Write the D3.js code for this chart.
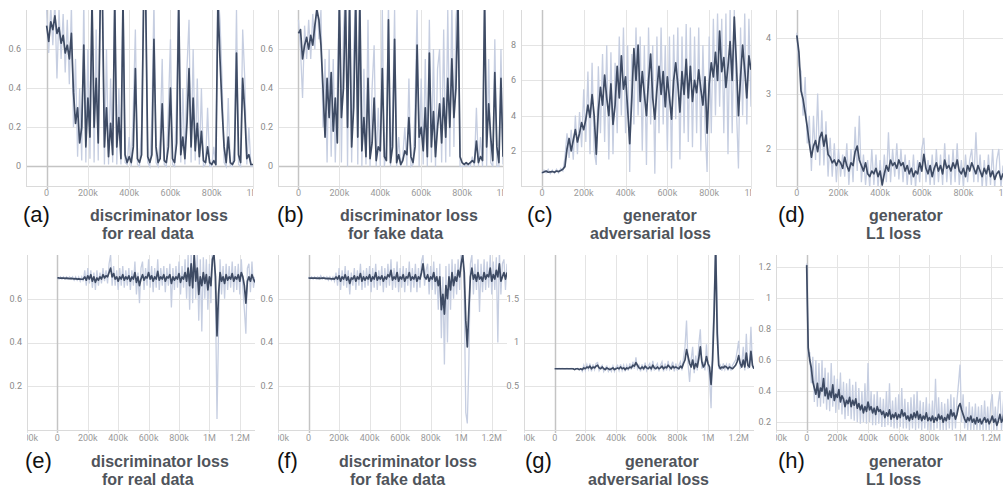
<!DOCTYPE html>
<html>
<head>
<meta charset="utf-8">
<script src="https://cdn.jsdelivr.net/npm/d3@7"></script>
<style>
  body { margin: 0; background: #fff; }
  svg { display: block; }
</style>
</head>
<body>
<div id="chart"></div>
<script>
const W = 1003, H = 487;
const stepSize = 10000; // one value every 10k steps

// x ticks
const topTicks = [0, 200000, 400000, 600000, 800000, 1000000];
const bottomTicks = [-200000, 0, 200000, 400000, 600000, 800000, 1000000, 1200000];

// (a) discriminator loss, real data (first run)
const lossA = [
  0.72,0.64,0.74,0.70,0.77,0.68,0.71,0.63,0.67,0.58,
  0.62,0.55,0.68,0.38,0.22,0.30,0.12,0.20,0.62,0.10,
  0.35,0.15,0.85,0.20,0.45,0.12,0.85,0.88,0.10,0.30,
  0.05,0.22,0.06,0.85,0.10,0.25,0.04,0.85,0.06,0.02,
  0.05,0.02,0.10,0.50,0.04,0.02,0.06,0.85,0.85,0.05,
  0.02,0.06,0.65,0.10,0.02,0.04,0.32,0.03,0.02,0.10,
  0.40,0.04,0.02,0.12,0.85,0.06,0.15,0.04,0.22,0.50,
  0.10,0.35,0.08,0.22,0.05,0.18,0.03,0.02,0.10,0.02,
  0.01,0.03,0.01,0.85,0.55,0.30,0.10,0.02,0.15,0.02,
  0.01,0.03,0.58,0.06,0.02,0.45,0.28,0.04,0.06,0.01,
  0.01];
const rawA = [
  0.80,0.58,0.82,0.62,0.85,0.45,0.80,0.55,0.78,0.48,
  0.75,0.42,0.82,0.20,0.55,0.05,0.40,0.03,0.85,0.02,
  0.60,0.04,0.90,0.02,0.70,0.03,0.90,0.90,0.01,0.60,
  0.01,0.45,0.02,0.90,0.01,0.40,0.01,0.90,0.02,0.01,
  0.15,0.00,0.30,0.70,0.01,0.00,0.20,0.90,0.90,0.02,
  0.00,0.25,0.85,0.02,0.00,0.15,0.55,0.01,0.00,0.30,
  0.65,0.01,0.00,0.35,0.90,0.02,0.40,0.01,0.50,0.75,
  0.02,0.60,0.03,0.45,0.01,0.40,0.00,0.01,0.30,0.00,
  0.00,0.10,0.00,0.90,0.75,0.45,0.02,0.00,0.35,0.00,
  0.00,0.10,0.80,0.01,0.00,0.70,0.45,0.01,0.20,0.00,
  0.00];

// (b) discriminator loss, fake data (first run)
const lossB = [
  0.68,0.70,0.55,0.62,0.66,0.60,0.67,0.62,0.72,0.80,
  0.75,0.62,0.40,0.15,0.45,0.25,0.48,0.18,0.35,0.12,
  0.85,0.25,0.40,0.85,0.20,0.85,0.10,0.30,0.85,0.15,
  0.85,0.08,0.25,0.05,0.45,0.04,0.12,0.35,0.03,0.10,
  0.08,0.50,0.05,0.03,0.75,0.02,0.10,0.65,0.02,0.06,
  0.01,0.03,0.08,0.06,0.25,0.05,0.02,0.10,0.62,0.15,
  0.20,0.08,0.30,0.05,0.58,0.10,0.28,0.05,0.20,0.32,
  0.12,0.35,0.15,0.45,0.20,0.55,0.25,0.40,0.85,0.05,
  0.02,0.01,0.02,0.01,0.02,0.03,0.02,0.13,0.02,0.05,
  0.03,0.85,0.10,0.32,0.15,0.03,0.48,0.10,0.02,0.45,
  0.05];
const rawB = [
  0.75,0.60,0.35,0.72,0.55,0.75,0.55,0.78,0.60,0.90,
  0.65,0.80,0.20,0.55,0.02,0.60,0.05,0.55,0.02,0.40,
  0.90,0.02,0.70,0.90,0.00,0.90,0.02,0.60,0.90,0.01,
  0.90,0.00,0.50,0.01,0.75,0.00,0.40,0.62,0.00,0.30,
  0.00,0.80,0.00,0.10,0.85,0.00,0.25,0.80,0.00,0.15,
  0.00,0.05,0.20,0.00,0.45,0.00,0.01,0.30,0.80,0.00,
  0.45,0.01,0.55,0.00,0.75,0.02,0.60,0.00,0.50,0.60,
  0.02,0.70,0.02,0.80,0.05,0.85,0.10,0.75,0.90,0.00,
  0.00,0.00,0.01,0.00,0.00,0.05,0.00,0.30,0.00,0.15,
  0.00,0.90,0.00,0.55,0.02,0.00,0.65,0.00,0.00,0.60,
  0.01];

// (c) generator adversarial loss (first run)
const lossC = [
  0.75,0.80,0.85,0.78,0.80,0.82,0.78,0.85,0.82,0.88,
  0.95,1.1,2.1,2.7,2.0,2.6,3.2,2.5,3.0,3.6,
  3.2,3.8,4.6,3.9,5.2,4.0,1.8,4.3,5.6,4.6,
  6.3,5.0,4.0,5.8,3.5,4.6,6.8,5.0,7.4,5.5,
  6.2,4.4,2.4,5.0,7.8,6.0,8.0,4.8,6.5,5.2,
  4.0,6.0,7.5,5.0,3.8,5.5,6.8,5.2,6.5,4.5,
  6.2,5.0,3.8,6.0,7.0,5.8,4.2,6.5,5.2,7.2,
  5.0,6.8,4.8,6.0,5.3,6.6,5.5,4.6,6.2,3.0,
  5.8,7.0,6.2,7.6,6.0,8.8,6.5,7.3,5.6,6.8,
  8.2,6.0,9.6,7.0,4.0,6.2,8.0,6.6,5.0,7.4,
  6.6];
const rawC = [
  0.70,0.90,0.75,0.95,0.70,0.90,0.72,0.95,0.75,1.0,
  0.85,1.6,3.0,1.6,3.2,1.5,4.0,1.8,4.2,2.2,
  5.5,2.5,6.5,1.8,7.0,2.0,1.2,6.8,3.0,7.5,
  2.5,8.0,1.5,7.6,1.8,7.0,3.0,8.5,4.0,9.0,
  3.0,8.0,0.8,7.5,3.5,9.0,4.0,8.5,2.0,8.0,
  1.2,9.0,3.5,8.0,0.7,8.5,3.0,9.0,3.5,8.0,
  2.0,8.5,1.0,8.6,3.8,9.0,1.5,8.5,3.0,9.2,
  2.5,9.0,2.2,8.5,3.0,9.0,2.0,8.0,3.5,0.8,
  8.5,3.0,9.5,4.0,9.8,4.5,9.5,3.0,9.8,1.8,
  10.0,3.0,10.0,4.5,1.0,9.0,4.0,9.8,3.5,9.5,
  4.5];

// (d) generator L1 loss (first run)
const lossD = [
  4.05,3.75,3.05,2.90,2.65,2.40,2.10,1.85,2.05,2.15,
  1.95,2.20,2.30,2.05,2.25,1.90,1.85,1.75,1.80,1.70,
  1.80,1.75,1.65,1.85,1.70,1.60,1.75,1.70,1.95,2.05,
  1.80,1.70,1.60,1.75,1.55,1.50,1.60,1.55,1.65,1.50,
  1.60,1.35,1.55,1.70,1.60,1.80,1.70,1.75,1.65,1.80,
  1.70,1.75,1.60,1.70,1.55,1.65,1.50,1.60,1.55,1.75,
  1.60,1.90,1.65,1.55,1.70,1.50,1.65,1.75,1.60,1.70,
  1.55,1.80,1.65,1.70,1.60,1.75,1.65,1.80,1.60,1.55,
  1.65,1.50,1.70,1.60,1.75,1.65,1.55,1.70,1.60,1.50,
  1.65,1.55,1.70,1.50,1.60,1.45,1.55,1.60,1.45,1.55,
  1.45];
const rawD = [
  4.1,3.5,3.4,2.6,3.3,2.1,2.6,1.6,2.6,1.8,
  3.0,1.7,2.7,1.7,2.5,1.5,2.2,1.5,2.1,1.4,
  2.0,1.5,1.9,1.5,2.1,1.35,2.0,1.4,2.4,1.6,
  2.6,1.4,1.9,1.35,1.8,1.3,2.0,1.35,1.9,1.3,
  1.8,1.3,1.9,1.4,2.3,1.4,2.0,1.5,2.1,1.45,
  2.0,1.4,1.9,1.35,1.8,1.35,1.9,1.3,1.8,1.4,
  2.0,2.2,1.4,1.8,1.35,1.9,1.35,2.0,1.4,1.9,
  1.35,2.1,1.4,1.9,1.35,2.0,1.4,2.1,1.35,1.8,
  1.3,1.9,1.4,1.8,2.0,1.4,2.3,1.4,1.9,1.3,
  1.8,1.3,1.9,1.35,2.0,1.3,1.8,2.0,1.3,1.7,
  1.3];

// (e) discriminator loss, real data (second run)
const lossE = [
  0.695,0.695,0.694,0.695,0.694,0.693,0.694,0.693,0.692,0.693,
  0.692,0.691,0.692,0.690,0.691,0.690,0.689,0.690,0.70,0.685,
  0.705,0.69,0.71,0.68,0.70,0.675,0.695,0.685,0.70,0.69,
  0.71,0.695,0.705,0.70,0.72,0.74,0.70,0.715,0.69,0.70,
  0.68,0.70,0.69,0.71,0.685,0.70,0.69,0.705,0.68,0.70,
  0.69,0.72,0.675,0.70,0.66,0.69,0.71,0.685,0.70,0.695,
  0.72,0.69,0.705,0.68,0.70,0.69,0.725,0.685,0.70,0.69,
  0.71,0.68,0.70,0.695,0.71,0.67,0.70,0.685,0.70,0.69,
  0.715,0.675,0.70,0.69,0.72,0.68,0.74,0.66,0.76,0.65,
  0.80,0.68,0.74,0.62,0.70,0.66,0.72,0.67,0.71,0.64,
  0.70,0.66,0.78,0.80,0.70,0.43,0.62,0.72,0.68,0.70,
  0.67,0.71,0.685,0.70,0.69,0.715,0.68,0.70,0.69,0.71,
  0.68,0.72,0.70,0.66,0.58,0.68,0.70,0.68,0.71,0.69,
  0.675];
const rawE = [
  0.70,0.69,0.70,0.69,0.70,0.69,0.70,0.69,0.70,0.69,
  0.70,0.685,0.70,0.685,0.70,0.68,0.70,0.68,0.73,0.66,
  0.74,0.67,0.73,0.65,0.72,0.64,0.73,0.66,0.72,0.67,
  0.74,0.68,0.73,0.67,0.76,0.80,0.66,0.75,0.66,0.73,
  0.64,0.74,0.66,0.75,0.65,0.73,0.66,0.74,0.64,0.73,
  0.66,0.77,0.62,0.72,0.58,0.74,0.77,0.64,0.74,0.66,
  0.78,0.65,0.75,0.63,0.74,0.65,0.78,0.64,0.74,0.66,
  0.75,0.63,0.74,0.66,0.76,0.56,0.74,0.64,0.75,0.65,
  0.77,0.62,0.75,0.65,0.78,0.60,0.80,0.55,0.82,0.58,
  0.85,0.60,0.80,0.50,0.78,0.45,0.79,0.60,0.78,0.55,
  0.76,0.58,0.84,0.85,0.60,0.05,0.45,0.78,0.62,0.75,
  0.60,0.76,0.64,0.75,0.65,0.77,0.63,0.75,0.64,0.76,
  0.62,0.78,0.65,0.55,0.44,0.74,0.76,0.63,0.77,0.65,
  0.70];

// (f) discriminator loss, fake data (second run)
const lossF = [
  0.695,0.694,0.695,0.694,0.695,0.694,0.693,0.694,0.693,0.695,
  0.694,0.693,0.692,0.693,0.692,0.691,0.692,0.690,0.70,0.69,
  0.705,0.68,0.70,0.69,0.71,0.685,0.70,0.67,0.695,0.69,
  0.705,0.68,0.70,0.69,0.715,0.68,0.70,0.685,0.70,0.69,
  0.71,0.68,0.70,0.69,0.72,0.685,0.70,0.69,0.705,0.68,
  0.70,0.69,0.71,0.70,0.73,0.685,0.70,0.69,0.72,0.68,
  0.70,0.69,0.71,0.68,0.70,0.695,0.72,0.685,0.70,0.69,
  0.71,0.68,0.70,0.69,0.72,0.76,0.70,0.69,0.71,0.68,
  0.70,0.69,0.72,0.68,0.70,0.66,0.70,0.55,0.62,0.53,
  0.66,0.60,0.70,0.64,0.72,0.66,0.70,0.68,0.73,0.70,
  0.76,0.80,0.72,0.50,0.38,0.55,0.70,0.74,0.69,0.71,
  0.68,0.72,0.69,0.70,0.68,0.72,0.69,0.71,0.70,0.74,
  0.68,0.71,0.69,0.73,0.70,0.76,0.68,0.70,0.72,0.69,
  0.72];
const rawF = [
  0.70,0.69,0.70,0.69,0.70,0.69,0.70,0.69,0.705,0.69,
  0.70,0.69,0.70,0.685,0.70,0.685,0.70,0.68,0.72,0.66,
  0.74,0.64,0.73,0.66,0.75,0.65,0.73,0.62,0.72,0.66,
  0.74,0.64,0.73,0.66,0.76,0.64,0.73,0.65,0.74,0.66,
  0.75,0.63,0.74,0.65,0.76,0.64,0.73,0.66,0.75,0.63,
  0.74,0.65,0.76,0.66,0.78,0.64,0.74,0.65,0.77,0.63,
  0.74,0.65,0.75,0.63,0.74,0.66,0.77,0.63,0.74,0.65,
  0.76,0.63,0.74,0.65,0.77,0.80,0.66,0.73,0.76,0.62,
  0.75,0.64,0.77,0.62,0.74,0.55,0.76,0.42,0.70,0.30,
  0.75,0.40,0.76,0.55,0.78,0.60,0.76,0.62,0.78,0.64,
  0.82,0.85,0.60,0.08,0.03,0.30,0.76,0.80,0.62,0.76,
  0.64,0.78,0.54,0.76,0.63,0.78,0.64,0.77,0.65,0.80,
  0.62,0.77,0.64,0.79,0.40,0.82,0.62,0.76,0.78,0.64,
  0.76];

// (g) generator adversarial loss (second run)
const lossG = [
  0.70,0.70,0.70,0.70,0.70,0.70,0.70,0.70,0.70,0.70,
  0.70,0.70,0.70,0.69,0.70,0.70,0.69,0.70,0.69,0.71,
  0.70,0.72,0.71,0.73,0.70,0.72,0.71,0.73,0.74,0.71,
  0.70,0.72,0.70,0.69,0.71,0.70,0.69,0.70,0.71,0.69,
  0.70,0.71,0.70,0.72,0.70,0.71,0.69,0.71,0.70,0.72,
  0.71,0.74,0.73,0.77,0.74,0.71,0.70,0.72,0.70,0.73,
  0.71,0.70,0.72,0.70,0.74,0.71,0.70,0.72,0.70,0.71,
  0.73,0.70,0.72,0.71,0.74,0.72,0.70,0.73,0.71,0.72,
  0.71,0.70,0.73,0.71,0.76,0.80,0.92,0.84,0.76,0.72,
  0.80,0.70,0.76,0.72,0.82,0.95,0.78,0.72,0.75,0.84,
  0.76,0.72,0.52,0.80,1.33,2.10,1.10,0.74,0.70,0.72,
  0.71,0.73,0.72,0.70,0.72,0.71,0.70,0.72,0.74,0.78,
  0.85,0.76,0.72,0.80,0.72,0.88,0.74,0.72,0.90,0.74,
  0.70];
const rawG = [
  0.70,0.705,0.70,0.705,0.70,0.705,0.70,0.70,0.705,0.70,
  0.70,0.705,0.70,0.695,0.70,0.705,0.69,0.70,0.67,0.74,
  0.68,0.75,0.69,0.76,0.67,0.75,0.69,0.76,0.77,0.68,
  0.72,0.74,0.67,0.71,0.73,0.67,0.71,0.67,0.73,0.67,
  0.72,0.74,0.68,0.75,0.68,0.74,0.67,0.74,0.68,0.76,
  0.69,0.78,0.70,0.83,0.70,0.74,0.67,0.75,0.68,0.77,
  0.68,0.73,0.76,0.67,0.79,0.68,0.73,0.76,0.67,0.74,
  0.78,0.67,0.76,0.68,0.79,0.69,0.73,0.78,0.67,0.76,
  0.68,0.74,0.78,0.68,0.82,0.95,1.25,0.75,0.55,0.80,
  0.95,0.65,0.85,0.68,0.98,1.15,0.70,0.78,0.68,0.98,
  0.70,0.60,0.25,1.00,1.50,2.20,1.40,0.70,0.74,0.68,
  0.76,0.69,0.75,0.68,0.76,0.68,0.74,0.77,0.80,0.90,
  1.02,0.70,0.76,0.95,0.68,1.10,0.70,0.76,1.18,0.72,
  0.70];

// (h) generator L1 loss (second run)
const lossH = [
  1.21,0.68,0.60,0.55,0.46,0.42,0.38,0.45,0.36,0.42,
  0.40,0.48,0.37,0.42,0.35,0.40,0.36,0.44,0.34,0.38,
  0.36,0.41,0.33,0.37,0.35,0.30,0.34,0.32,0.36,0.30,
  0.34,0.31,0.35,0.29,0.32,0.28,0.31,0.26,0.30,0.27,
  0.33,0.28,0.30,0.26,0.29,0.25,0.30,0.27,0.28,0.25,
  0.27,0.23,0.26,0.24,0.28,0.22,0.25,0.23,0.26,0.22,
  0.25,0.23,0.28,0.24,0.26,0.22,0.24,0.21,0.25,0.22,
  0.26,0.23,0.27,0.22,0.25,0.21,0.24,0.22,0.26,0.21,
  0.23,0.21,0.24,0.20,0.23,0.21,0.25,0.22,0.24,0.20,
  0.23,0.21,0.25,0.22,0.28,0.24,0.26,0.22,0.25,0.30,
  0.32,0.28,0.25,0.22,0.20,0.23,0.21,0.24,0.20,0.22,
  0.19,0.23,0.20,0.22,0.19,0.21,0.23,0.20,0.22,0.19,
  0.21,0.24,0.20,0.22,0.18,0.21,0.25,0.20,0.22,0.28,
  0.21];
const rawH = [
  1.22,0.62,0.65,0.45,0.62,0.33,0.60,0.30,0.58,0.30,
  0.60,0.32,0.55,0.28,0.52,0.27,0.58,0.30,0.50,0.26,
  0.48,0.28,0.52,0.25,0.46,0.22,0.45,0.24,0.48,0.22,
  0.44,0.21,0.46,0.20,0.42,0.19,0.40,0.20,0.45,0.19,
  0.58,0.20,0.40,0.18,0.38,0.18,0.40,0.19,0.36,0.17,
  0.35,0.17,0.40,0.18,0.45,0.17,0.34,0.16,0.36,0.16,
  0.38,0.17,0.42,0.16,0.35,0.16,0.33,0.15,0.36,0.16,
  0.38,0.15,0.40,0.16,0.34,0.15,0.33,0.16,0.36,0.15,
  0.32,0.15,0.34,0.15,0.48,0.16,0.36,0.15,0.33,0.15,
  0.32,0.15,0.35,0.16,0.38,0.15,0.36,0.16,0.34,0.45,
  0.57,0.20,0.38,0.16,0.30,0.15,0.33,0.15,0.30,0.15,
  0.32,0.15,0.30,0.15,0.31,0.15,0.34,0.15,0.30,0.15,
  0.32,0.38,0.15,0.30,0.15,0.33,0.40,0.15,0.30,0.42,
  0.16];

// panel layout
const panels = [
  { dark: lossA, raw: rawA, x: [26, 253], y: [10, 186], xDom: [-100000, 1000000], yDom: [-0.1, 0.8],
    xTicks: topTicks, yTicks: [0, 0.2, 0.4, 0.6], letter: "(a)", lx: 23,
    title: ["discriminator loss", "for real data"], tx: [90, 102], row: 0 },
  { dark: lossB, raw: rawB, x: [278, 503], y: [10, 186], xDom: [-100000, 1000000], yDom: [-0.1, 0.8],
    xTicks: topTicks, yTicks: [0, 0.2, 0.4, 0.6], letter: "(b)", lx: 277,
    title: ["discriminator loss", "for fake data"], tx: [340, 348], row: 0 },
  { dark: lossC, raw: rawC, x: [521, 751], y: [10, 186], xDom: [-100000, 1000000], yDom: [0, 10],
    xTicks: topTicks, yTicks: [2, 4, 6, 8], letter: "(c)", lx: 527,
    title: ["generator", "adversarial loss"], tx: [623, 590], row: 0 },
  { dark: lossD, raw: rawD, x: [776, 1003], y: [10, 186], xDom: [-100000, 990000], yDom: [1.33, 4.51],
    xTicks: topTicks, yTicks: [2, 3, 4], letter: "(d)", lx: 778,
    title: ["generator", "L1 loss"], tx: [869, 866], row: 0 },
  { dark: lossE, raw: rawE, x: [27, 255], y: [255, 430], xDom: [-200000, 1300000], yDom: [0, 0.8],
    xTicks: bottomTicks, yTicks: [0.2, 0.4, 0.6], letter: "(e)", lx: 25,
    title: ["discriminator loss", "for real data"], tx: [91, 102], row: 1 },
  { dark: lossF, raw: rawF, x: [278, 507], y: [255, 430], xDom: [-200000, 1300000], yDom: [0, 0.8],
    xTicks: bottomTicks, yTicks: [0.2, 0.4, 0.6], letter: "(f)", lx: 277,
    title: ["discriminator loss", "for fake data"], tx: [339, 350], row: 1 },
  { dark: lossG, raw: rawG, x: [524, 754], y: [255, 430], xDom: [-200000, 1300000], yDom: [0, 2],
    xTicks: bottomTicks, yTicks: [0.5, 1, 1.5], letter: "(g)", lx: 525,
    title: ["generator", "adversarial loss"], tx: [625, 588], row: 1 },
  { dark: lossH, raw: rawH, x: [776, 1003], y: [255, 430], xDom: [-200000, 1280000], yDom: [0.15, 1.275],
    xTicks: bottomTicks, yTicks: [0.2, 0.4, 0.6, 0.8, 1, 1.2], letter: "(h)", lx: 778,
    title: ["generator", "L1 loss"], tx: [869, 866], row: 1 }
];

const textRows = [
  { letter: 222, line1: 221, line2: 239, tick: 196 },
  { letter: 468, line1: 467, line2: 485, tick: 441 }
];

const svg = d3.select("#chart").append("svg")
    .attr("width", W)
    .attr("height", H);

const crisp = v => Math.round(v) + 0.5;
const fmtX = d3.format("~s");
const fmtY = d3.format("~g");

panels.forEach((p, i) => {
    const g = svg.append("g");
    const t = textRows[p.row];

    const x = d3.scaleLinear().domain(p.xDom).range(p.x);
    const y = d3.scaleLinear().domain(p.yDom).range([p.y[1], p.y[0]]);

    // clip paths
    const defs = g.append("defs");
    defs.append("clipPath").attr("id", "plot" + i)
        .append("rect")
        .attr("x", p.x[0]).attr("y", p.y[0])
        .attr("width", p.x[1] - p.x[0]).attr("height", p.y[1] - p.y[0]);
    defs.append("clipPath").attr("id", "xlab" + i)
        .append("rect")
        .attr("x", p.x[0]).attr("y", p.y[1])
        .attr("width", p.x[1] - p.x[0]).attr("height", 18);

    // horizontal grid
    g.selectAll(".hgrid")
        .data(p.yTicks)
        .enter()
        .append("line")
        .attr("x1", p.x[0]).attr("x2", p.x[1])
        .attr("y1", d => crisp(y(d))).attr("y2", d => crisp(y(d)))
        .attr("stroke", d => d === 0 ? "#c4c4c4" : "#e4e4e4")
        .attr("stroke-width", d => d === 0 ? 1.5 : 1);

    // vertical grid
    g.selectAll(".vgrid")
        .data(p.xTicks)
        .enter()
        .append("line")
        .attr("x1", d => crisp(x(d))).attr("x2", d => crisp(x(d)))
        .attr("y1", p.y[0]).attr("y2", p.y[1] + 3)
        .attr("stroke", d => d === 0 ? "#c4c4c4" : "#e4e4e4")
        .attr("stroke-width", d => d === 0 ? 1.5 : 1);

    // frame: left and bottom
    g.append("line")
        .attr("x1", crisp(p.x[0])).attr("x2", crisp(p.x[0]))
        .attr("y1", p.y[0]).attr("y2", p.y[1])
        .attr("stroke", "#dadada");
    g.append("line")
        .attr("x1", p.x[0]).attr("x2", p.x[1])
        .attr("y1", crisp(p.y[1])).attr("y2", crisp(p.y[1]))
        .attr("stroke", "#dadada");

    // curves
    const plot = g.append("g").attr("clip-path", "url(#plot" + i + ")");
    const line = d3.line()
        .x((d, k) => x(k * stepSize))
        .y(d => y(d));

    plot.append("path")
        .datum(p.raw)
        .attr("d", line)
        .attr("fill", "none")
        .attr("stroke", "#c6cee1")
        .attr("stroke-width", 1.3);

    plot.append("path")
        .datum(p.dark)
        .attr("d", line)
        .attr("fill", "none")
        .attr("stroke", "#3e4b64")
        .attr("stroke-width", 1.7)
        .attr("stroke-linejoin", "round");

    // y tick labels
    g.selectAll(".ylab")
        .data(p.yTicks)
        .enter()
        .append("text")
        .attr("x", p.x[0] - 5)
        .attr("y", d => y(d))
        .attr("dy", "0.33em")
        .attr("text-anchor", "end")
        .attr("font-family", "Roboto, 'Liberation Sans', sans-serif")
        .attr("font-size", 9)
        .attr("fill", "#8a8a8a")
        .text(d => fmtY(d));

    // x tick labels (clipped at the frame like the original screenshots)
    g.append("g")
        .attr("clip-path", "url(#xlab" + i + ")")
        .selectAll("text")
        .data(p.xTicks)
        .enter()
        .append("text")
        .attr("x", d => x(d))
        .attr("y", t.tick)
        .attr("text-anchor", "middle")
        .attr("font-family", "Roboto, 'Liberation Sans', sans-serif")
        .attr("font-size", 9)
        .attr("fill", "#9a9a9a")
        .text(d => fmtX(d).replace("\u2212", "-"));

    // panel letter
    g.append("text")
        .attr("x", p.lx)
        .attr("y", t.letter)
        .attr("font-family", "'Liberation Sans', Arial, sans-serif")
        .attr("font-size", 22)
        .attr("fill", "#111")
        .text(p.letter);

    // caption
    g.append("text")
        .attr("x", p.tx[0])
        .attr("y", t.line1)
        .attr("font-family", "'Liberation Sans', Arial, sans-serif")
        .attr("font-size", 16)
        .attr("font-weight", "bold")
        .attr("fill", "#4f545b")
        .text(p.title[0]);
    g.append("text")
        .attr("x", p.tx[1])
        .attr("y", t.line2)
        .attr("font-family", "'Liberation Sans', Arial, sans-serif")
        .attr("font-size", 16)
        .attr("font-weight", "bold")
        .attr("fill", "#4f545b")
        .text(p.title[1]);
});
</script>
</body>
</html>
